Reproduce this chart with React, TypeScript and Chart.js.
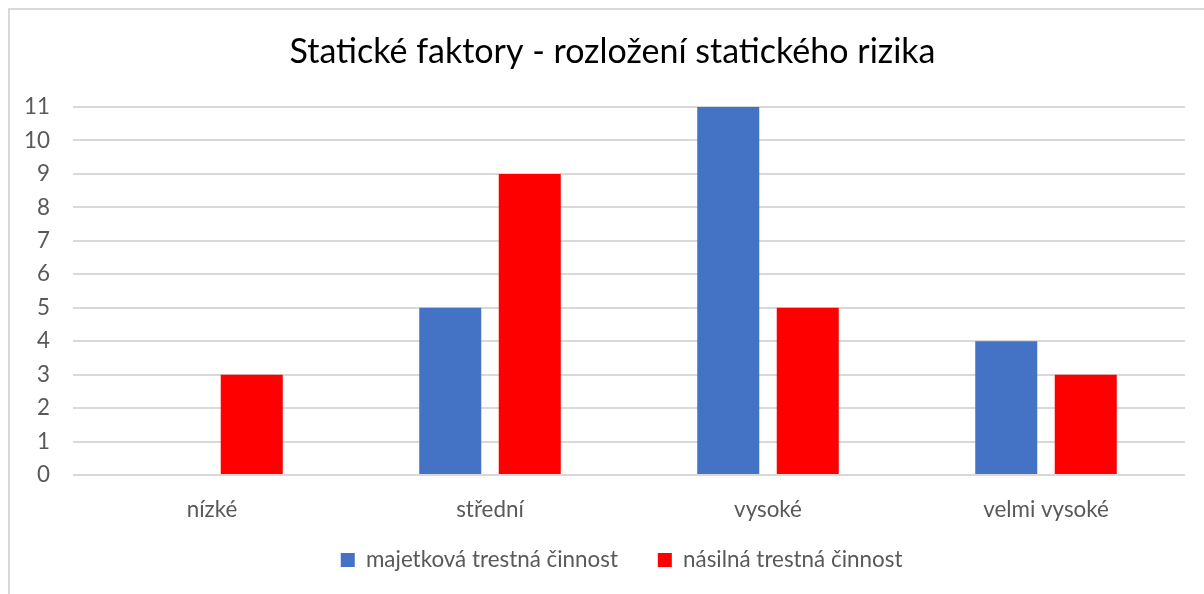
import React, { useEffect, useRef } from "react";
import { Chart, registerables } from "chart.js";

Chart.register(...registerables);

const titleText = "Statické faktory - rozložení statického rizika";
const categories = ["nízké", "střední", "vysoké", "velmi vysoké"];
const seriesNames = ["majetková trestná činnost", "násilná trestná činnost"];
const propertyCrime = [0, 5, 11, 4];
const violentCrime = [3, 9, 5, 3];
const yMin = 0;
const yMax = 11;
const yStep = 1;

const FONT = "Lato, 'Open Sans', sans-serif";
const TITLE_CENTER_X = 602.5;
const LEGEND_CENTER_X = 611.6;
const LEGEND_TOP = 499;

const placeBlocks = {
  id: "placeBlocks",
  afterLayout(chart: any) {
    const t = chart.titleBlock;
    if (t) {
      const d = TITLE_CENTER_X - (t.left + t.right) / 2;
      t.left += d;
      t.right += d;
    }
    const l = chart.legend;
    if (l) {
      const d = LEGEND_CENTER_X - (l.left + l.right) / 2;
      l.left += d;
      l.right += d;
      const dy = LEGEND_TOP - l.top;
      l.top += dy;
      l.bottom += dy;
    }
  },
};

export default function App() {
  const ref = useRef<HTMLCanvasElement | null>(null);

  useEffect(() => {
    document.documentElement.style.overflow = "hidden";
    document.body.style.overflow = "hidden";
    const canvas = ref.current;
    if (!canvas) return;
    const chart = new Chart(canvas, {
      type: "bar",
      data: {
        labels: categories,
        datasets: [
          {
            label: seriesNames[0],
            data: propertyCrime,
            backgroundColor: "#4472C4",
            categoryPercentage: 0.572,
            barPercentage: 0.78,
          },
          {
            label: seriesNames[1],
            data: violentCrime,
            backgroundColor: "#FF0000",
            categoryPercentage: 0.572,
            barPercentage: 0.78,
          },
        ],
      },
      plugins: [placeBlocks],
      options: {
        animation: false,
        responsive: false,
        maintainAspectRatio: false,
        layout: { padding: { left: 0, right: 19, top: 0, bottom: 1 } },
        plugins: {
          title: {
            display: true,
            text: titleText,
            color: "#000000",
            font: { family: FONT, size: 34, weight: "normal" },
            padding: { top: 22, bottom: 34.2 },
          },
          legend: {
            display: true,
            position: "bottom",
            maxHeight: 70,
            labels: {
              boxWidth: 14,
              boxHeight: 14,
              padding: 39.8,
              color: "#595959",
              font: { family: FONT, size: 22.4 },
            },
          },
          tooltip: { enabled: false },
        },
        scales: {
          x: {
            grid: { display: false, drawTicks: false },
            border: { display: false },
            ticks: {
              color: "#595959",
              font: { family: FONT, size: 22.4 },
              padding: 21.1,
            },
            afterFit: (scale: any) => {
              scale.height = 48;
            },
          },
          y: {
            min: yMin,
            max: yMax,
            grid: { color: "#d9d9d9", lineWidth: 2, drawTicks: false },
            border: { display: false },
            ticks: {
              stepSize: yStep,
              color: "#595959",
              font: { family: FONT, size: 22.4 },
              padding: 23,
            },
            afterFit: (scale: any) => {
              scale.width = 63;
            },
          },
        },
      },
    });
    return () => chart.destroy();
  }, []);

  return (
    <div
      style={{
        position: "fixed",
        left: 8,
        top: 8,
        width: 1196,
        height: 586,
        borderTop: "2px solid #d9d9d9",
        borderLeft: "2px solid #d9d9d9",
        background: "#ffffff",
      }}
    >
      <canvas ref={ref} width={1194} height={584} style={{ display: "block" }} />
    </div>
  );
}
